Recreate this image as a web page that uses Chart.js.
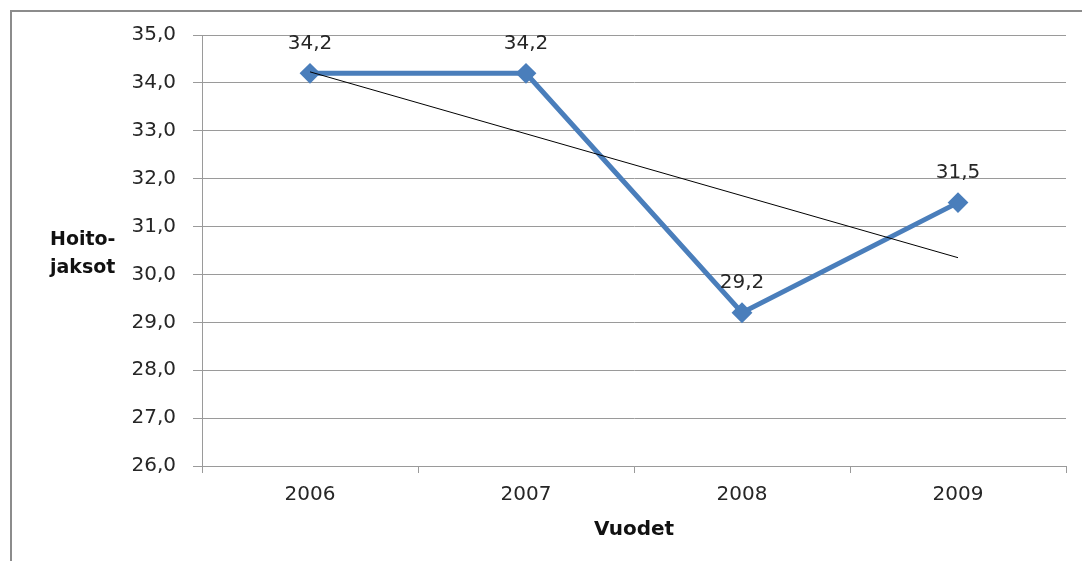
<!DOCTYPE html>
<html lang="fi">
<head>
<meta charset="utf-8">
<title>Hoitojaksot 2006–2009</title>
<script src="https://cdn.jsdelivr.net/npm/chart.js@4"></script>
<style>
  html, body { margin: 0; padding: 0; background: #ffffff; }
  #wrap { position: relative; width: 1082px; height: 561px; overflow: hidden; }
  #frame {
    position: absolute; left: 10px; top: 10px; width: 1100px; height: 600px;
    border-left: 2px solid #8c8c8c; border-top: 2px solid #8c8c8c;
  }
  #chart { position: absolute; left: 0; top: 0; }
  #ytitle {
    position: absolute; left: 50px; top: 224px;
    font: bold 19px "DejaVu Sans", sans-serif; line-height: 28px; color: #111;
  }
</style>
</head>
<body>
<div id="wrap">
  <div id="frame"></div>
  <canvas id="chart" width="1082" height="561"></canvas>
  <div id="ytitle">Hoito-<br>jaksot</div>
</div>
<script>
// Hoitojaksot per year
const years = ['2006', '2007', '2008', '2009'];
const periods = [34.2, 34.2, 29.2, 31.5];
// Linear trend line: start (2006) and end (2009) values
const trend = [34.23, null, null, 30.35];
// Value axis
const yMin = 26;
const yMax = 35;
const yStep = 1;

const fmt = v => Number(v).toFixed(1).replace('.', ',');
const textColor = '#262626';
const gridColor = '#9a9a9a';
const tickFont = { family: 'DejaVu Sans', size: 20 };

// Writes each value above its marker
const valueLabels = {
  id: 'valueLabels',
  afterDatasetsDraw(chart) {
    const ctx = chart.ctx;
    const meta = chart.getDatasetMeta(0);
    ctx.save();
    ctx.font = '20px "DejaVu Sans"';
    ctx.fillStyle = textColor;
    ctx.textAlign = 'center';
    ctx.textBaseline = 'middle';
    meta.data.forEach((pt, i) => {
      ctx.fillText(fmt(periods[i]), pt.x, pt.y - 30);
    });
    ctx.restore();
  }
};

new Chart(document.getElementById('chart'), {
  type: 'line',
  data: {
    labels: years,
    datasets: [
      {
        label: 'Hoitojaksot',
        data: periods,
        borderColor: '#4a7ebb',
        backgroundColor: '#4a7ebb',
        borderWidth: 5,
        pointStyle: 'rectRot',
        pointRadius: 9,
        pointBorderWidth: 2,
        pointBackgroundColor: '#4a7ebb',
        pointBorderColor: '#4a7ebb',
        tension: 0,
        order: 1
      },
      {
        label: 'Trendi',
        data: trend,
        borderColor: '#000000',
        borderWidth: 1,
        pointRadius: 0,
        spanGaps: true,
        tension: 0,
        order: 0
      }
    ]
  },
  options: {
    responsive: false,
    animation: false,
    events: [],
    layout: { padding: { left: 0, top: 35, right: 16, bottom: 0 } },
    plugins: { legend: { display: false }, tooltip: { enabled: false } },
    scales: {
      x: {
        offset: true,
        afterFit: s => { s.height = 95; },
        grid: {
          offset: true,
          drawOnChartArea: false,
          drawTicks: true,
          tickLength: 7,
          color: gridColor,
          lineWidth: 1
        },
        border: { display: true, color: gridColor, width: 1 },
        ticks: { color: textColor, font: tickFont, padding: 10, maxRotation: 0 },
        title: {
          display: true,
          text: 'Vuodet',
          color: '#111',
          font: { family: 'DejaVu Sans', size: 20, weight: 'bold' },
          padding: { top: 0, bottom: 19 }
        }
      },
      y: {
        min: yMin,
        max: yMax,
        afterFit: s => { s.width = 202; },
        grid: {
          drawOnChartArea: true,
          drawTicks: true,
          tickLength: 9,
          color: gridColor,
          lineWidth: 1
        },
        border: { display: true, color: gridColor, width: 1 },
        ticks: {
          stepSize: yStep,
          color: textColor,
          font: tickFont,
          padding: 17,
          callback: v => fmt(v)
        }
      }
    }
  },
  plugins: [valueLabels]
});
</script>
</body>
</html>
